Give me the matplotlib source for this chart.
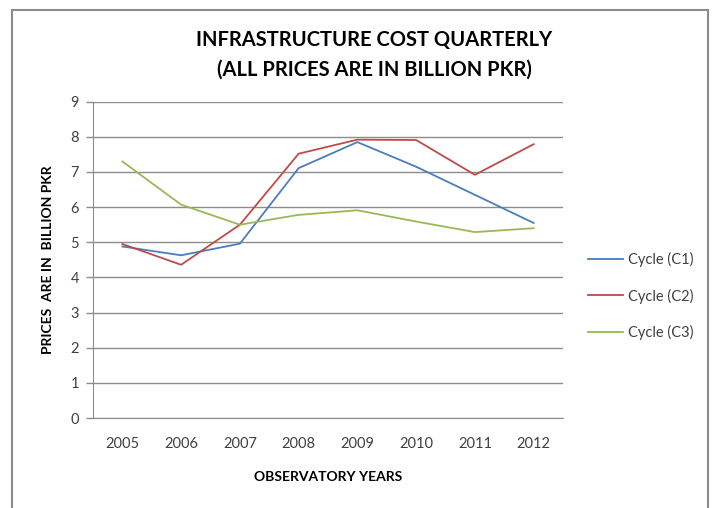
import matplotlib.pyplot as plt
from matplotlib.patches import Rectangle

# yearly observations for each cycle (billion PKR)
years = ['2005', '2006', '2007', '2008', '2009', '2010', '2011', '2012']
cycle_c1 = [4.88, 4.63, 4.96, 7.11, 7.85, 7.15, 6.35, 5.55]
cycle_c2 = [4.95, 4.36, 5.50, 7.52, 7.92, 7.91, 6.92, 7.79]
cycle_c3 = [7.30, 6.07, 5.50, 5.78, 5.91, 5.59, 5.29, 5.40]
series_names = ['Cycle (C1)', 'Cycle (C2)', 'Cycle (C3)']
y_ticks = list(range(0, 10))

plt.rcParams['font.family'] = ['Lato', 'DejaVu Sans']

fig = plt.figure(figsize=(7.17, 5.08), dpi=100)
ax = fig.add_axes([93 / 717, 1 - 418 / 508, 470 / 717, 316.3 / 508])

colors = ['#4A7EBB', '#BE4B48', '#98B954']
x = range(len(years))
for vals, name, col in zip([cycle_c1, cycle_c2, cycle_c3], series_names, colors):
    ax.plot(x, vals, color=col, linewidth=1.3, label=name)

ax.set_xlim(-0.5, len(years) - 0.5)
ax.set_ylim(0, 9)
ax.set_yticks(y_ticks)
ax.set_xticks(list(x))
ax.set_xticklabels(years)
ax.tick_params(axis='x', length=0, pad=14, labelsize=10.5, colors='#404040')
ax.tick_params(axis='y', length=5, width=1, color='#8c8c8c', pad=5,
               labelsize=10.5, colors='#404040')
ax.yaxis.grid(True, color='#8c8c8c', linewidth=1)
ax.set_axisbelow(True)
for side in ['top', 'right']:
    ax.spines[side].set_visible(False)
ax.spines['left'].set_color('#8c8c8c')
ax.spines['bottom'].set_color('#8c8c8c')

ax.set_xlabel('OBSERVATORY YEARS', fontsize=10, fontweight='bold', labelpad=14)
ax.set_ylabel('PRICES  ARE IN  BILLION PKR', fontsize=10, fontweight='bold',
              labelpad=12)

fig.text(374 / 717, 1 - 40 / 508, 'INFRASTRUCTURE COST QUARTERLY',
         ha='center', va='center', fontsize=14.5, fontweight='bold')
fig.text(374 / 717, 1 - 70 / 508, '(ALL PRICES ARE IN BILLION PKR)',
         ha='center', va='center', fontsize=14.5, fontweight='bold')

fig.legend(loc='center left', bbox_to_anchor=(588 / 717, 1 - 296 / 508),
           frameon=False, fontsize=10.5, handlelength=2.4, handletextpad=0.35,
           labelspacing=1.45, borderpad=0, borderaxespad=0,
           labelcolor='#404040')

# chart frame
fig.add_artist(Rectangle((12 / 717, -0.1), 696 / 717, 1.1 - 10 / 508,
                         transform=fig.transFigure, fill=False,
                         edgecolor='#8c8c8c', linewidth=1.5))

fig.savefig('out.png', dpi=100)
